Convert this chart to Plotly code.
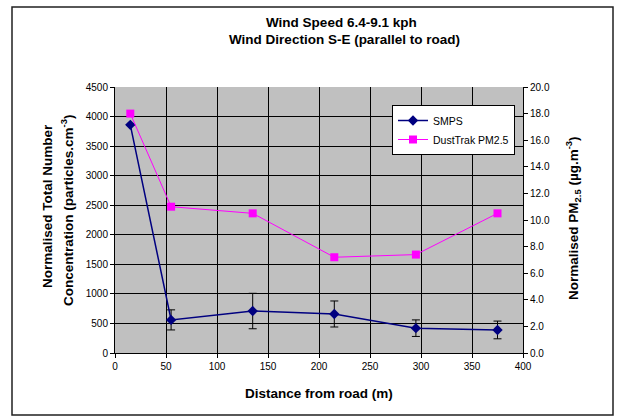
import plotly.graph_objects as go

distance = [15, 55, 135, 215, 295, 375]
smps = [3860, 560, 710, 660, 420, 390]
smps_err = [0, 170, 300, 220, 140, 150]
dusttrak = [18.0, 11.0, 10.5, 7.2, 7.4, 10.5]

x_ticks = list(range(0, 401, 50))
y_ticks = list(range(0, 4501, 500))
y2_ticks = [0, 2, 4, 6, 8, 10, 12, 14, 16, 18, 20]

FONT = "Liberation Sans, Arial, sans-serif"
W, H = 619, 417
L, R, T, B = 115, 523, 87, 353

def px(xp):
    return (xp - L) / (R - L)

def py(yp):
    return (B - yp) / (B - T)

fig = go.Figure()
fig.add_trace(go.Scatter(
    x=distance, y=smps, name="SMPS", mode="lines+markers",
    line=dict(color="#000080", width=1.5),
    marker=dict(symbol="diamond", size=8, color="#000080"),
    error_y=dict(type="data", array=smps_err, visible=True, color="black", thickness=1, width=4),
    yaxis="y"))
fig.add_trace(go.Scatter(
    x=distance, y=dusttrak, name="DustTrak PM2.5", mode="lines+markers",
    line=dict(color="#FF00FF", width=1),
    marker=dict(symbol="square", size=8, color="#FF00FF"),
    yaxis="y2"))

axis_common = dict(showline=True, linecolor="black", linewidth=1, ticks="outside",
                   ticklen=4, tickcolor="black", tickfont=dict(family=FONT, size=10, color="black"),
                   zeroline=False)

fig.update_layout(
    width=W, height=H,
    margin=dict(l=L, r=W - R, t=T, b=H - B, pad=0),
    paper_bgcolor="white", plot_bgcolor="#C0C0C0",
    font=dict(family=FONT, color="black"),
    xaxis=dict(range=[0, 400], tickvals=x_ticks, showgrid=True, gridcolor="black", gridwidth=1,
               **axis_common),
    yaxis=dict(range=[0, 4500], tickvals=y_ticks, showgrid=True, gridcolor="black", gridwidth=1,
               **axis_common),
    yaxis2=dict(range=[0, 20], tickvals=y2_ticks, tickformat=".1f", overlaying="y", side="right",
                showgrid=False, **axis_common),
    showlegend=True,
    legend=dict(x=px(392), y=py(105), xanchor="left", yanchor="top",
                bgcolor="white", bordercolor="black", borderwidth=1,
                font=dict(family=FONT, size=10.5, color="black"),
                itemwidth=30, tracegroupgap=0),
)

fig.add_shape(type="rect", xref="paper", yref="paper",
              x0=px(12), x1=px(613), y0=py(415), y1=py(7),
              line=dict(color="#202020", width=1.5), layer="below")

ann = [
    dict(text="<b>Wind Speed 6.4-9.1 kph</b>", x=px(341), y=py(22), size=13.5, angle=0),
    dict(text="<b>Wind Direction S-E (parallel to road)</b>", x=px(344), y=py(39), size=13.5, angle=0),
    dict(text="<b>Distance from road (m)</b>", x=px(319), y=py(393), size=13.5, angle=0),
    dict(text="<b>Normalised Total Number</b>", x=px(47), y=py(206), size=13.5, angle=-90),
    dict(text="<b>Concentration (particles.cm<sup>-3</sup>)</b>", x=px(67), y=py(211), size=13.5, angle=-90),
    dict(text="<b>Normalised PM<sub>2.5</sub> (µg.m<sup>-3</sup>)</b>",
         x=px(573), y=py(218), size=13.5, angle=-90),
]
for a in ann:
    fig.add_annotation(text=a["text"], x=a["x"], y=a["y"], xref="paper", yref="paper",
                       xanchor="center", yanchor="middle", showarrow=False,
                       textangle=a["angle"], font=dict(family=FONT, size=a["size"], color="black"))

fig.write_html("out.html")
